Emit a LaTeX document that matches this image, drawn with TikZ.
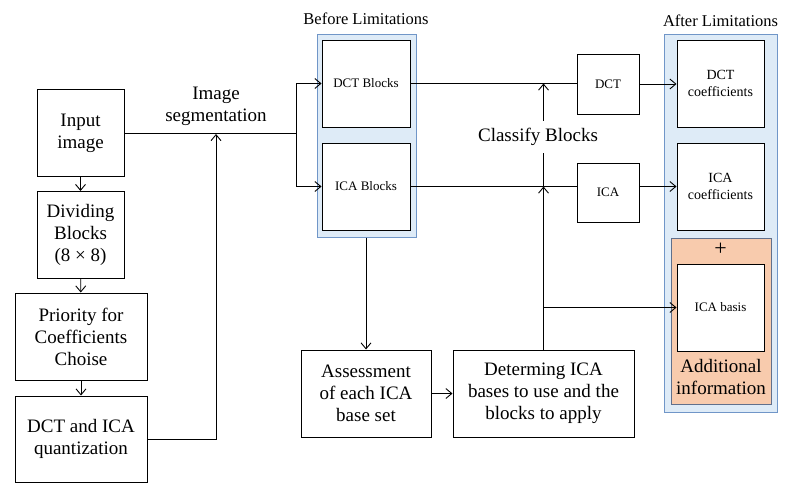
\documentclass[tikz,border=0pt]{standalone}
\usepackage{fontspec}
\setmainfont{Liberation Serif}
\usepackage{tikz}
\usetikzlibrary{positioning,arrows.meta}
\definecolor{limitFill}{RGB}{222,235,247}
\definecolor{limitLine}{RGB}{112,150,200}
\definecolor{infoFill}{RGB}{248,203,173}
\definecolor{infoLine}{RGB}{96,112,140}

\tikzset{
  box/.style={draw,fill=white,line width=1pt,inner sep=0pt,align=center},
  bigtxt/.style={font=\fontsize{19}{22}\selectfont},
  smalltxt/.style={font=\fontsize{13}{17}\selectfont},
  midtxt/.style={font=\fontsize{14}{16.5}\selectfont},
  arr/.style={-{Straight Barb[length=6pt,width=10pt]},line width=0.9pt},
  lin/.style={line width=0.9pt}
}

\begin{document}
\begin{tikzpicture}[x=1pt,y=-1pt]
      \useasboundingbox (0,0) rectangle (791,498);
      % shaded groups
      \node[draw=limitLine,fill=limitFill,line width=1pt,minimum width=99pt,minimum height=203pt,inner sep=0pt] (before) at (366.5,135.5) {};
      \node[draw=limitLine,fill=limitFill,line width=1pt,minimum width=113pt,minimum height=378pt,inner sep=0pt] (after) at (720.5,223) {};
      \node[draw=infoLine,fill=infoFill,line width=1pt,minimum width=100pt,minimum height=166pt,inner sep=0pt] (extra) at (721,321) {};
      \node[font=\fontsize{16.5}{20}\selectfont] (beforelbl) at (366,19) {Before Limitations};
      \node[font=\fontsize{16.5}{20}\selectfont] (afterlbl) at (720.5,21) {After Limitations};
      % left column
      \foreach \n/\cx/\cy/\w/\h/\t in {
        input/80.5/133/87/87/{Input\\image},
        divide/80.5/235/87/87/{Dividing\\Blocks\\(8 × 8)},
        prio/81/336.5/132/87/{Priority for\\Coefficients\\Choise},
        quant/81/439/132/86/{DCT and ICA\\quantization}}{
        \node[box,bigtxt,minimum width=\w pt,minimum height=\h pt] (\n) at (\cx,\cy) {\t};
      }
      \node[bigtxt,align=center] (seglbl) at (216,106) {Image\\segmentation};
      % block boxes
      \node[box,smalltxt,minimum width=88pt,minimum height=87pt] (dctblk) at (366,83.5) {DCT Blocks};
      \node[box,smalltxt,minimum width=88pt,minimum height=87pt] (icablk) at (366,186.5) {ICA Blocks};
      \node[box,smalltxt,minimum width=62pt,minimum height=60pt] (dct) at (608,84) {DCT};
      \node[box,smalltxt,minimum width=62pt,minimum height=59pt] (ica) at (608,192.5) {ICA};
      \node[box,midtxt,minimum width=87pt,minimum height=87pt] (dctcoef) at (720.5,83.5) {DCT\\coefficients};
      \node[box,midtxt,minimum width=87pt,minimum height=87pt] (icacoef) at (720.5,186.5) {ICA\\coefficients};
      \node[box,smalltxt,minimum width=87pt,minimum height=87pt] (basis) at (720.5,307.5) {ICA basis};
      \node[font=\fontsize{22}{22}\selectfont] (plus) at (720.5,249) {+};
      \node[bigtxt,align=center] (addinfo) at (721,377) {Additional\\information};
      \node[box,bigtxt,minimum width=130pt,minimum height=87pt] (assess) at (366,393.5) {Assessment\\of each ICA\\base set};
      \node[box,bigtxt,minimum width=181pt,minimum height=87pt] (determ) at (543.5,393.5) {Determing ICA\\bases to use and the\\blocks to apply};
      \node[bigtxt,minimum height=32pt] (classify) at (538,137) {Classify Blocks};
      % connectors
      \coordinate (split) at (296,133);
      \coordinate (segin) at (216,134);
      \draw[arr] (input) -- (divide);
      \draw[arr] (divide) -- (prio);
      \draw[arr] (prio) -- (quant);
      \draw[lin] (input.east) -- (split);
      \draw[arr] (split) |- (dctblk.west);
      \draw[arr] (split) |- (icablk.west);
      \draw[arr] (quant.east) -| (segin);
      \draw[lin] (dctblk.east) -- (dctblk.east -| dct.west);
      \draw[arr] (dct.east) -- (dctcoef.west |- dct.east);
      \draw[lin] (icablk.east) -- (icablk.east -| ica.west);
      \draw[arr] (ica.east |- icacoef.west) -- (icacoef.west);
      \draw[arr] (before.south -| assess.north) -- (assess.north);
      \draw[arr] (assess) -- (determ);
      \draw[arr] (determ.north) -- (determ.north |- icablk.east);
      \draw[lin] (determ.north |- icablk.east) -- (determ.north |- classify.south);
      \draw[arr] (determ.north |- classify.north) -- (determ.north |- dctblk.east);
      \draw[arr] (determ.north |- basis.west) -- (basis.west);
    \end{tikzpicture}
\end{document}
